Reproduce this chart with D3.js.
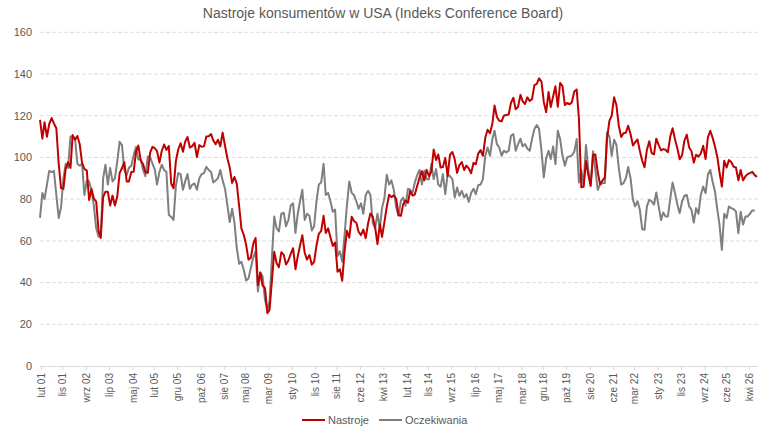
<!DOCTYPE html>
<html><head><meta charset="utf-8">
<script src="https://cdn.jsdelivr.net/npm/d3@7"></script>
<style>
body{margin:0;background:#fff}
svg{display:block}
text{font-family:"Liberation Sans",Arial,sans-serif;fill:#595959}
</style>
</head><body>
<svg id="chart" width="766" height="431"></svg>
<script>
const chartTitle = "Nastroje konsumentów w USA (Indeks Conference Board)";
const firstMonth = [2001, 0]; // styczeń 2001
const seriesNames = ["Nastroje", "Oczekiwania"];

const nastroje = [
118,109,116.9,109.9,116.1,118.9,116.3,114.0,97.0,85.3,84.9,94.6,
97.8,95.0,110.7,108.5,110.3,106.3,97.4,94.5,93.7,79.6,84.9,80.3,
78.8,64.8,61.4,81.0,83.6,83.5,77.0,81.7,77.0,81.1,92.5,94.8,
97.7,88.5,88.5,93.0,93.1,102.8,105.7,98.7,96.7,92.9,92.6,102.3,
105.1,104.4,103.0,97.5,103.1,106.2,103.6,105.5,87.5,85.2,98.3,103.8,
106.8,102.7,107.5,109.8,104.7,105.4,107.0,100.2,105.9,105.1,105.3,110.0,
110.2,111.2,108.2,106.3,108.5,105.3,111.9,105.6,99.5,95.2,87.8,90.6,
87.3,76.4,65.9,62.8,58.1,51.0,51.9,58.5,61.4,38.8,44.7,38.6,
37.4,25.3,26.9,40.8,54.8,49.3,47.4,54.5,53.4,48.7,50.6,53.6,
56.5,46.4,52.3,57.7,62.7,54.3,51.0,53.2,48.6,49.9,57.8,63.4,
64.8,72.0,63.8,66.0,61.7,57.6,59.2,45.2,46.4,40.9,55.2,64.8,
61.5,71.6,69.5,68.7,64.4,62.7,65.4,61.3,68.4,73.1,71.5,66.7,
58.4,68.0,61.9,69.0,76.2,82.1,81.0,81.8,80.2,72.4,72.0,77.5,
79.4,78.3,83.9,81.7,82.2,86.4,90.3,93.4,89.0,94.1,91.0,93.1,
103.8,98.8,101.4,95.2,95.4,99.8,91.0,101.3,102.6,99.1,92.6,96.3,
97.8,94.0,96.1,94.7,92.4,97.4,96.7,101.8,103.5,100.8,109.4,113.3,
111.6,116.1,124.9,119.4,117.6,117.3,120.0,120.4,120.6,126.2,128.6,123.1,
124.3,130.0,127.0,125.6,128.8,127.1,127.9,134.7,135.3,137.9,136.4,126.6,
121.7,131.4,124.2,129.2,134.1,124.3,135.7,134.2,125.1,126.1,125.5,126.5,
131.6,132.6,118.8,85.7,85.9,98.3,91.7,86.3,101.3,101.4,92.9,87.1,
88.9,90.4,109.0,117.5,120.0,128.9,125.1,115.2,109.8,111.6,111.9,115.2,
111.1,105.7,107.2,108.6,103.2,98.4,95.3,103.6,107.8,102.2,101.4,109.0,
106.0,103.4,104.0,103.7,102.5,110.1,114.0,108.7,104.3,99.1,101.0,108.0,
110.9,104.8,103.1,97.5,101.3,100.4,101.9,105.6,99.2,109.6,112.8,109.5,
105.3,100.1,92.9,86.0,98.4,95.2,98.7,97.8,95.5,95.2,89,94,
89,91,92,92.5,93.1,91.5,90.7
];

const oczekiwania = [
71,83,80,87,93.5,93,93.5,82,71,76,
90,97,95,110,110,109,97,96,97,82,
89,88.5,84,77,66,62,63,90,96.5,87,
95,88.5,90,98,107.5,106,94,91.5,95,96,
101,105,99,99,94,91,100.5,100,97,94,
87,93,96.5,94,93,72.5,71.5,70,86.5,92.5,
92,84.5,88.5,92,85,87,87.5,84.5,90,92,
92.5,95.5,94,93,88,89,90,
94,89,85,77,69,75.4,69,56.5,49,50,
46,41,42,47,52,55,35.7,45,43,31.7,
27,31,52,71.7,66,64.5,73,73.5,67,70,
77,78,63.8,72.5,79,84.5,70,73,72,65,
67,79,87,88,97,82,83,79,74,75,
52.7,55,50,63,77,88.5,83,82,79,75.4,
78,73,82,84,82,68.5,66,73,66,75.7,
80.5,91.7,87,89,84.5,76,72,
79.2,80.8,76.8,85,84.5,83,88,91.5,94,87,
93.6,89.6,89.6,96.8,89.6,94.4,87,86,92,82.4,
92,91,89.6,80.8,85.6,81.6,84,80.8,82.4,78.7,
83,85,82.4,86.7,87,89.6,100.8,104.8,100.8,108.8,
112.8,106.4,104.8,100.8,103.2,102.4,103.2,110.4,111.2,103.2,
106.4,109,105.3,106.4,104.3,103.2,108.8,113.6,115.5,113.6,
103.2,90.4,99.5,103.2,99.2,105.3,96.8,112.8,108.8,100.8,
96,100,100.5,101,102.7,108.8,88,
94,86.9,106,94,87,103,94,84.5,87,87.7,
87.7,112,110,100.8,108.5,106,95,87,87.7,90,
95.4,90,79.7,76.5,79,75,65.6,65.3,76.5,79.7,
79,77.3,83.2,76.5,70,73.6,71.7,71.7,80.5,88,
82.9,77.3,73.3,79,81.6,82,76.5,75,68.8,75.7,
73,82,86,82.9,91.7,94,88.5,83.7,75,67.8,
55.7,73,70.9,76.5,75.7,75.2,74,63.7,74,67.8,
71.7,71.7,73,74.6,74.6
];

const tickMonths = ["2001-02","2001-11","2002-09","2003-07","2004-05","2005-02","2005-12","2006-10",
"2007-08","2008-05","2009-03","2010-01","2010-11","2011-08","2012-06","2013-04","2014-02","2014-11",
"2015-09","2016-07","2017-05","2018-03","2018-12","2019-10","2020-08","2021-06","2022-03","2023-01",
"2023-11","2024-09","2025-06","2026-04"];
const tickLabels = ["lut 01","lis 01","wrz 02","lip 03","maj 04","lut 05","gru 05","paź 06",
"sie 07","maj 08","mar 09","sty 10","lis 10","sie 11","cze 12","kwi 13","lut 14","lis 14",
"wrz 15","lip 16","maj 17","mar 18","gru 18","paź 19","sie 20","cze 21","mar 22","sty 23",
"lis 23","wrz 24","cze 25","kwi 26"];
const yTicks = [0,20,40,60,80,100,120,140,160];

const colors = {"Nastroje":"#c00000","Oczekiwania":"#7f7f7f"};

const svg = d3.select("#chart");
const plot = {left:40, right:758, top:32.3, bottom:366};

const monthDate = (i, day) => new Date(firstMonth[0], firstMonth[1] + i, day);
const series = [
  {name: seriesNames[0], values: nastroje.map((v,i)=>({d: monthDate(i,15), v}))},
  {name: seriesNames[1], values: oczekiwania.map((v,i)=>({d: monthDate(i,15), v}))}
];

const x = d3.scaleTime()
  .domain([monthDate(0,15), monthDate(nastroje.length-1,15)])
  .range([40, 757]);
const y = d3.scaleLinear().domain([0,160]).range([plot.bottom, plot.top]);

// title
svg.append("text").attr("x",383).attr("y",18).attr("text-anchor","middle")
  .style("font-size","14px").text(chartTitle);

// gridlines
svg.append("g").selectAll("line").data(yTicks.filter(t=>t>0)).join("line")
  .attr("x1",plot.left).attr("x2",plot.right)
  .attr("y1",d=>y(d)).attr("y2",d=>y(d))
  .attr("stroke","#dedede").attr("stroke-width",1).attr("stroke-dasharray","4 2");

// y labels
svg.append("g").selectAll("text").data(yTicks).join("text")
  .attr("x",32).attr("y",d=>y(d)).attr("dy","0.35em").attr("text-anchor","end")
  .style("font-size","11px").text(d=>d);

// x axis
const tickDates = tickMonths.map(s=>{const [yy,mm]=s.split("-").map(Number); return new Date(yy,mm-1,1);});
const xAxis = d3.axisBottom(x).tickValues(tickDates).tickSize(4).tickFormat((d,i)=>tickLabels[i]);
const gx = svg.append("g").attr("transform",`translate(0,${plot.bottom})`).call(xAxis);
gx.select(".domain").attr("d",`M${plot.left},0.5H${plot.right}`).attr("stroke","#d9d9d9");
gx.selectAll(".tick line").attr("stroke","#d9d9d9");
gx.selectAll(".tick text")
  .attr("transform","rotate(-90)")
  .attr("x",-7).attr("y",0).attr("dy","0.35em")
  .attr("text-anchor","end")
  .style("font-size","10px").style("font-family",'"Liberation Sans",Arial,sans-serif')
  .attr("fill","#595959");

// lines
const line = d3.line().x(p=>x(p.d)).y(p=>y(p.v));
svg.append("g").selectAll("path").data(series.slice().reverse()).join("path")
  .attr("d",s=>line(s.values))
  .attr("fill","none")
  .attr("stroke",s=>colors[s.name])
  .attr("stroke-width",2)
  .attr("stroke-linejoin","round");

// legend
const legendItems = [{name:seriesNames[0], x:302},{name:seriesNames[1], x:379}];
const lg = svg.append("g").attr("transform","translate(0,420)");
legendItems.forEach(it=>{
  lg.append("line").attr("x1",it.x).attr("x2",it.x+23).attr("y1",0).attr("y2",0)
    .attr("stroke",colors[it.name]).attr("stroke-width",2);
  lg.append("text").attr("x",it.x+26).attr("y",0).attr("dy","0.35em")
    .style("font-size","11px").text(it.name);
});
</script>
</body></html>
